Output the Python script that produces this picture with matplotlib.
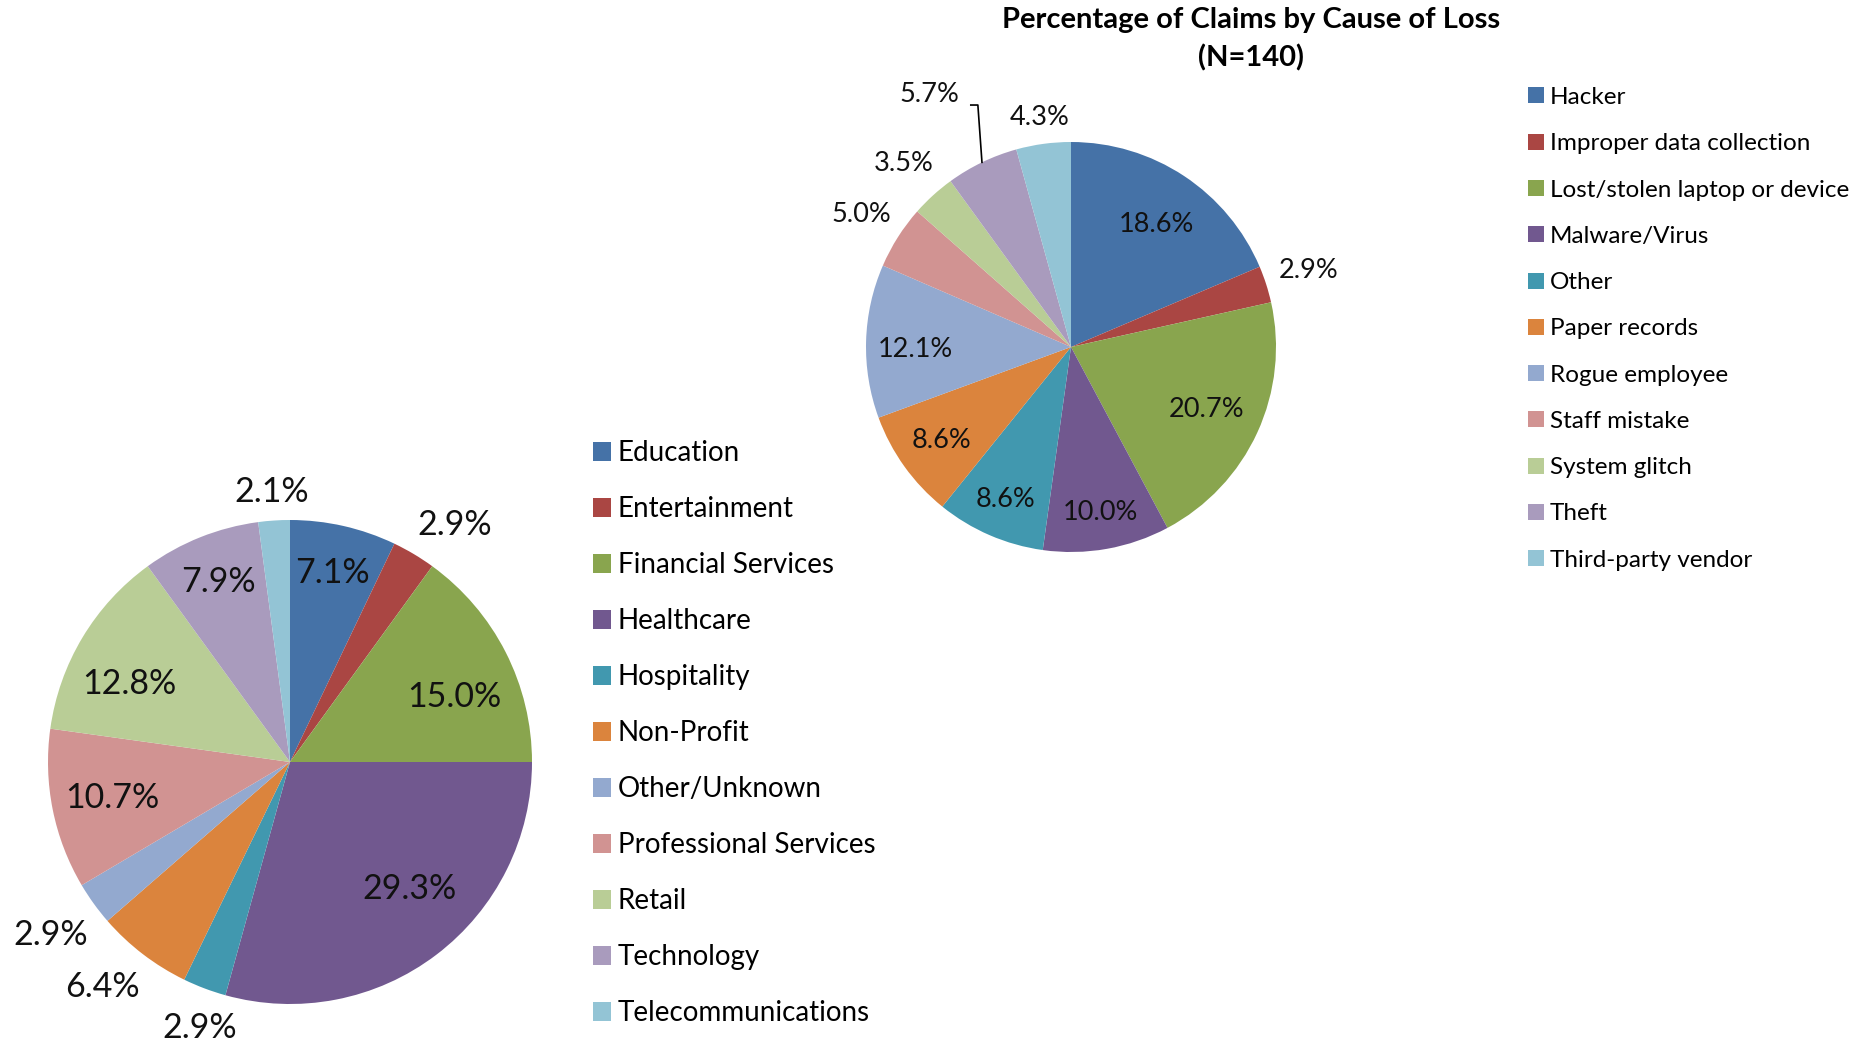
import matplotlib.pyplot as plt
import numpy as np

plt.rcParams['font.family'] = ['Lato', 'DejaVu Sans']

industries = ['Education', 'Entertainment', 'Financial Services', 'Healthcare',
              'Hospitality', 'Non-Profit', 'Other/Unknown', 'Professional Services',
              'Retail', 'Technology', 'Telecommunications']
industry_pct = [7.1, 2.9, 15.0, 29.3, 2.9, 6.4, 2.9, 10.7, 12.8, 7.9, 2.1]

causes = ['Hacker', 'Improper data collection', 'Lost/stolen laptop or device',
          'Malware/Virus', 'Other', 'Paper records', 'Rogue employee',
          'Staff mistake', 'System glitch', 'Theft', 'Third-party vendor']
cause_pct = [18.6, 2.9, 20.7, 10.0, 8.6, 8.6, 12.1, 5.0, 3.5, 5.7, 4.3]

colors = ['#4572A7', '#AA4643', '#89A54E', '#71588F', '#4198AF', '#DB843D',
          '#93A9CF', '#D19392', '#B9CD96', '#A99BBD', '#93C4D5']

# value label placement: distance in pie radii, turn (deg) from the slice middle
ind_lab_r = [0.80, 1.19, 0.73, 0.72, 1.16, 1.21, 1.22, 0.75, 0.74, 0.80, 1.12]
ind_lab_turn = [0, -4, -5.5, 6, 2, -2.5, 0, 0, 5, 0, 0]
cause_lab_r = [0.73, 1.22, 0.73, 0.82, 0.81, 0.78, 0.76, 1.21, 1.21, 1.41, 1.13]
cause_lab_turn = [-1.5, 0, 0, 0, 0, 0, 2.5, 0, 0, 3.5, 0]

W, H = 1866, 1044
fig = plt.figure(figsize=(W/100, H/100), dpi=100)

def box(cx, cy, r, k):
    # square axes around a pie centre given in pixels from the top left
    return [(cx-k*r)/W, (H-cy-k*r)/H, 2*k*r/W, 2*k*r/H]

# industry pie
ax1 = fig.add_axes(box(290, 762, 242, 1.4))
w1, _ = ax1.pie(industry_pct, colors=colors, startangle=90, counterclock=False)
ax1.set_xlim(-1.4, 1.4)
ax1.set_ylim(-1.4, 1.4)
for w, v, d, a in zip(w1, industry_pct, ind_lab_r, ind_lab_turn):
    t = np.deg2rad((w.theta1+w.theta2)/2 + a)
    ax1.text(d*np.cos(t), d*np.sin(t), '%.1f%%' % v, ha='center', va='center',
             fontsize=24.5, color='#111111')

# cause of loss pie
ax2 = fig.add_axes(box(1071, 347, 205, 1.5))
w2, _ = ax2.pie(cause_pct, colors=colors, startangle=90, counterclock=False)
ax2.set_xlim(-1.5, 1.5)
ax2.set_ylim(-1.5, 1.5)
for i, (w, v, d, a) in enumerate(zip(w2, cause_pct, cause_lab_r, cause_lab_turn)):
    mid = np.deg2rad((w.theta1+w.theta2)/2)
    t = mid + np.deg2rad(a)
    x, y = d*np.cos(t), d*np.sin(t)
    ax2.text(x, y, '%.1f%%' % v, ha='center', va='center', fontsize=19.5,
             color='#111111')
    if i == 9:
        # leader line for the Theft label
        ex, ey = np.cos(mid), np.sin(mid)
        ax2.plot([x+0.2, ex-0.02, ex], [y-0.05, y-0.05, ey], color='black', lw=1.2)

fig.text(1251/W, 1-20/H, 'Percentage of Claims by Cause of Loss', ha='center',
         va='center', fontsize=21, fontweight='bold')
fig.text(1251/W, 1-58/H, '(N=140)', ha='center', va='center', fontsize=21,
         fontweight='bold')

fig.legend(w2, causes, loc='upper left', bbox_to_anchor=(1528/W, 1-87/H),
           frameon=False, fontsize=17.5, handlelength=0.64, handleheight=0.64,
           handletextpad=0.25, labelspacing=1.04, borderpad=0, borderaxespad=0)
fig.legend(w1, industries, loc='upper left', bbox_to_anchor=(593/W, 1-440/H),
           frameon=False, fontsize=20, handlelength=0.65, handleheight=0.65,
           handletextpad=0.25, labelspacing=1.08, borderpad=0, borderaxespad=0)

plt.savefig('out.png', dpi=100)
